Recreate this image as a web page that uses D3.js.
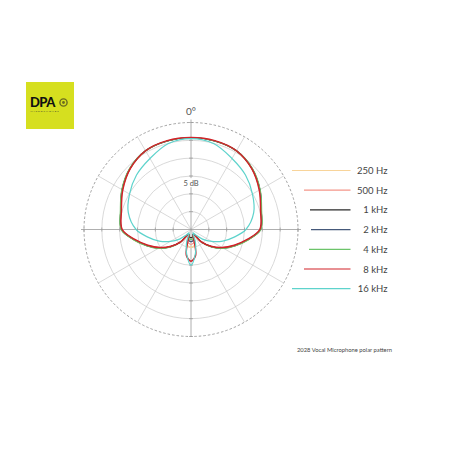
<!DOCTYPE html>
<html lang="en">
  <head>
    <meta charset="UTF-8" />
    <title>DPA 2028 polar pattern</title>
    <script src="https://cdn.jsdelivr.net/npm/d3@7"></script>
    <style>
      body { margin: 0; background: #fff; }
      text { font-family: Lato, 'Open Sans', sans-serif; }
    </style>
  </head>
  <body>
    <div id="chart"></div>
    <script>
      // angles (deg, 0 = front) for one half, mirrored for the other side
      const angles = [0, 15, 30, 45, 60, 75, 90, 100, 110, 120, 130, 140, 150, 160, 165, 170, 180]

      // response in dB
      const hz250 = [0.8, 0.7, 0.4, -0.9, -2.8, -4.6, -5.5, -8.6, -11.8, -14.6, -17.5, -20.3, -23.2, -22.6, -21.0, -20.3, -20.0]
      const hz500 = [0.8, 0.7, 0.4, -0.9, -2.8, -4.7, -5.6, -8.8, -12.0, -14.8, -17.6, -20.4, -23.2, -22.8, -21.5, -21.1, -20.8]
      const khz1 = [0.8, 0.7, 0.5, -0.8, -2.7, -4.6, -5.5, -8.7, -11.8, -14.5, -17.4, -20.3, -23.4, -23.5, -23.0, -22.8, -22.7]
      const khz2 = [0.8, 0.7, 0.5, -0.8, -2.7, -4.6, -5.6, -8.8, -11.9, -14.6, -17.5, -20.4, -23.4, -23.0, -22.2, -21.8, -21.6]
      const khz4 = [0.8, 0.7, 0.5, -0.7, -2.6, -4.5, -5.4, -8.6, -11.7, -14.4, -17.3, -20.2, -23.3, -23.2, -22.6, -22.3, -22.2]
      const khz8 = [0.8, 0.8, 0.5, -0.9, -2.9, -4.8, -5.7, -9.0, -12.1, -14.9, -17.7, -20.5, -23.3, -23.2, -21.5, -17.6, -16.1]
      const khz16 = [0.5, -0.1, -2.0, -3.4, -5.1, -6.8, -9.6, -12.7, -15.5, -18.3, -20.8, -23.0, -23.9, -21.6, -19.9, -18.0, -15.0]

      const seriesNames = ['250 Hz', '500 Hz', '1 kHz', '2 kHz', '4 kHz', '8 kHz', '16 kHz']
      const seriesValues = [hz250, hz500, khz1, khz2, khz4, khz8, khz16]
      const seriesColors = ['#f8d49a', '#f4968a', '#2a2a2a', '#45597a', '#6cc46a', '#d22229', '#5ed3cc']
      const drawOrder = [0, 1, 2, 3, 4, 5, 6]

      const ringTicks = [-20, -15, -10, -5, 0]
      const spokeAngles = d3.range(0, 360, 30)

      const W = 450
      const H = 450
      const cx = 191
      const cy = 229.5
      const R = 107

      const svg = d3
        .select('#chart')
        .append('svg')
        .attr('width', W)
        .attr('height', H)

      svg.append('rect').attr('width', W).attr('height', H).attr('fill', '#fff')

      const r = d3.scaleLinear().domain([-25, 5]).range([0, R])
      const rad = d => (d * Math.PI) / 180

      const plot = svg.append('g').attr('transform', `translate(${cx},${cy})`)

      // grid: rings
      plot
        .selectAll('.ring')
        .data(ringTicks)
        .join('circle')
        .attr('r', d => r(d))
        .attr('fill', 'none')
        .attr('stroke', '#c9c9c9')
        .attr('stroke-width', 0.7)

      plot
        .append('circle')
        .attr('r', r(5))
        .attr('fill', 'none')
        .attr('stroke', '#8a8a8a')
        .attr('stroke-width', 0.8)
        .attr('stroke-dasharray', '2.5,2')

      // spokes
      plot
        .selectAll('.spoke')
        .data(spokeAngles.filter(a => a % 90 !== 0))
        .join('line')
        .attr('x1', 0)
        .attr('y1', 0)
        .attr('x2', a => r(5) * Math.sin(rad(a)))
        .attr('y2', a => -r(5) * Math.cos(rad(a)))
        .attr('stroke', '#c9c9c9')
        .attr('stroke-width', 0.7)

      // main axes, a bit darker and longer
      const ext = r(5) + 3
      plot.append('line').attr('x1', -ext).attr('x2', ext).attr('y1', 0).attr('y2', 0)
        .attr('stroke', '#9a9a9a').attr('stroke-width', 0.8)
      plot.append('line').attr('x1', 0).attr('x2', 0).attr('y1', -ext).attr('y2', r(5))
        .attr('stroke', '#9a9a9a').attr('stroke-width', 0.8)

      // small ticks where rings cross the axes
      const tickR = ringTicks.concat([5])
      tickR.forEach(t => {
        const p = r(t)
        ;[-p, p].forEach(x => {
          plot.append('line').attr('x1', x).attr('x2', x).attr('y1', -2).attr('y2', 2)
            .attr('stroke', '#9a9a9a').attr('stroke-width', 0.7)
          plot.append('line').attr('x1', -2).attr('x2', 2).attr('y1', x).attr('y2', x)
            .attr('stroke', '#9a9a9a').attr('stroke-width', 0.7)
        })
      })

      // labels on the grid
      plot.append('text')
        .attr('x', 0)
        .attr('y', -r(5) - 8)
        .attr('text-anchor', 'middle')
        .attr('font-size', 10)
        .attr('fill', '#555')
        .text('0°')

      const dbLabel = plot.append('g').attr('transform', `translate(0,${-r(-12)})`)
      dbLabel.append('rect').attr('x', -9).attr('y', -5).attr('width', 18).attr('height', 9).attr('fill', '#fff')
      dbLabel.append('text')
        .attr('y', 3)
        .attr('text-anchor', 'middle')
        .attr('font-size', 7.5)
        .attr('fill', '#555')
        .text('5 dB')

      // curves
      const line = d3
        .lineRadial()
        .angle(d => rad(d[0]))
        .radius(d => r(Math.max(-25, d[1])))
        .curve(d3.curveCatmullRomClosed.alpha(0.5))

      const toPoints = vals => {
        const pts = angles.map((a, i) => [a, vals[i]])
        for (let i = angles.length - 2; i > 0; i--) pts.push([360 - angles[i], vals[i]])
        return pts
      }

      plot
        .selectAll('.curve')
        .data(drawOrder)
        .join('path')
        .attr('d', i => line(toPoints(seriesValues[i])))
        .attr('fill', 'none')
        .attr('stroke', i => seriesColors[i])
        .attr('stroke-width', i => (i === 5 ? 1.5 : 1.2))
        .attr('stroke-linejoin', 'round')

      // legend
      const legendStart = [292, 304, 310, 311, 309, 304, 292]
      const legend = svg
        .selectAll('.legend')
        .data(seriesNames)
        .join('g')
        .attr('transform', (d, i) => `translate(0,${170.5 + i * 19.7})`)

      legend.append('line')
        .attr('x1', (d, i) => legendStart[i])
        .attr('x2', 350.5)
        .attr('stroke', (d, i) => seriesColors[i])
        .attr('stroke-width', 1.2)

      legend.append('text')
        .attr('x', 387.5)
        .attr('y', 3.5)
        .attr('text-anchor', 'end')
        .attr('font-size', 9.5)
        .attr('fill', '#444')
        .text(d => d)

      // caption
      svg.append('text')
        .attr('x', 392)
        .attr('y', 352)
        .attr('text-anchor', 'end')
        .attr('font-size', 5.8)
        .attr('fill', '#444')
        .text('2028 Vocal Microphone polar pattern')

      // logo
      const logo = svg.append('g').attr('transform', 'translate(26,82)')
      logo.append('rect').attr('width', 48).attr('height', 47).attr('fill', '#d6df1f')
      logo.append('text')
        .attr('x', 4)
        .attr('y', 25)
        .attr('font-size', 13)
        .attr('font-weight', 900)
        .attr('font-family', 'Liberation Sans, Arial, sans-serif')
        .attr('letter-spacing', -0.6)
        .attr('fill', '#111')
        .text('DPA')
      logo.append('circle').attr('cx', 37.5).attr('cy', 20.5).attr('r', 3.6)
        .attr('fill', 'none').attr('stroke', '#6b6b20').attr('stroke-width', 1.4)
      logo.append('circle').attr('cx', 37.5).attr('cy', 20.5).attr('r', 1.4).attr('fill', '#6b6b20')
      logo.append('text')
        .attr('x', 4.5)
        .attr('y', 29.5)
        .attr('font-size', 2.6)
        .attr('letter-spacing', 0.9)
        .attr('fill', '#333')
        .text('MICROPHONES')
    </script>
  </body>
</html>
